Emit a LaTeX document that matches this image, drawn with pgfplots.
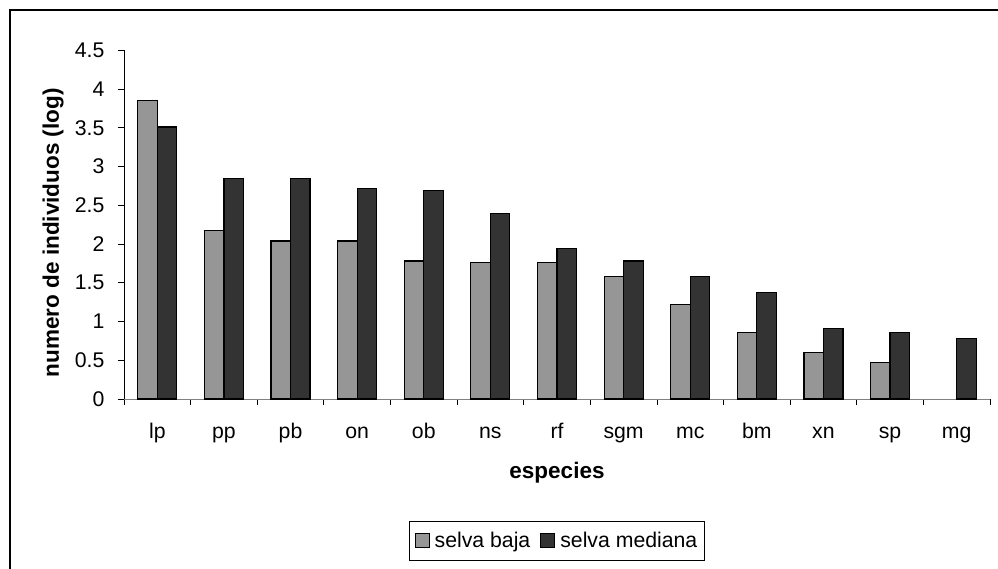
\documentclass[border=0pt]{standalone}
\usepackage{fontspec}
\setmainfont{Liberation Sans}
\usepackage{pgfplots}
\pgfplotsset{compat=1.18}
\definecolor{baja}{RGB}{150,150,150}
\definecolor{mediana}{RGB}{51,51,51}
\newcommand{\chartfont}{\fontsize{21.25}{25}\selectfont}
\newcommand{\titlefont}{\fontsize{22.5}{26}\selectfont}

\begin{document}
\begin{tikzpicture}[x=1pt,y=1pt]
\useasboundingbox (0,0) rectangle (998,568);
% chart area frame
\draw[line width=1.3pt] (10,-20) -- (10,558) -- (1020,558);
\begin{axis}[
  at={(124pt,169pt)}, anchor=south west,
  scale only axis, width=866pt, height=348.7pt,
  xmin=-0.5, xmax=12.5, ymin=0, ymax=4.5,
  ybar=0pt, bar width=19.5pt,
  axis x line*=bottom, axis y line*=left,
  x axis line style={-, draw=gray, line width=1pt},
  y axis line style={-, draw=black, line width=0.9pt},
  tick align=outside,
  major tick length=6pt, minor tick length=6pt,
  ytick={0,0.5,...,4.5},
  xtick={0,...,12},
  xticklabels={lp,pp,pb,on,ob,ns,rf,sgm,mc,bm,xn,sp,mg},
  major x tick style={draw=none},
  minor xtick={-0.5,0.5,...,12.5},
  minor x tick style={draw=black, line width=0.8pt},
  major y tick style={draw=black, line width=0.8pt},
  /pgf/number format/assume math mode=true,
  tick label style={font=\chartfont},
  xticklabel style={anchor=base, yshift=-33pt},
  yticklabel style={anchor=east, xshift=-10pt},
  xlabel={\textbf{especies}},
  xlabel style={font=\titlefont, at={(rel axis cs:0.5,0)}, anchor=base, yshift=-79pt},
  ylabel={\textbf{numero de individuos (log)}},
  ylabel style={font=\titlefont, at={(axis description cs:-0.082,0.477)}, anchor=center},
  legend style={at={(rel axis cs:0.5,0)}, anchor=center, yshift=-141.5pt,
    font=\chartfont, draw=black, line width=0.8pt, legend columns=2,
    inner xsep=5pt, inner ysep=9pt,
    /tikz/every odd column/.append style={column sep=3pt},
    /tikz/every even column/.append style={column sep=8pt}},
  legend image code/.code={\draw[#1, line width=1pt] (0pt,-7pt) rectangle (14pt,7pt);},
]
\addplot[fill=baja, draw=black, line width=1.2pt] coordinates {
  (0,3.85) (1,2.17) (2,2.04) (3,2.04) (4,1.78) (5,1.76) (6,1.76)
  (7,1.58) (8,1.22) (9,0.86) (10,0.60) (11,0.47)};
\addplot[fill=mediana, draw=black, line width=1.2pt] coordinates {
  (0,3.51) (1,2.85) (2,2.85) (3,2.72) (4,2.69) (5,2.39) (6,1.94)
  (7,1.78) (8,1.58) (9,1.37) (10,0.91) (11,0.86) (12,0.78)};
\legend{selva baja, selva mediana}
\end{axis}
\end{tikzpicture}
\end{document}
